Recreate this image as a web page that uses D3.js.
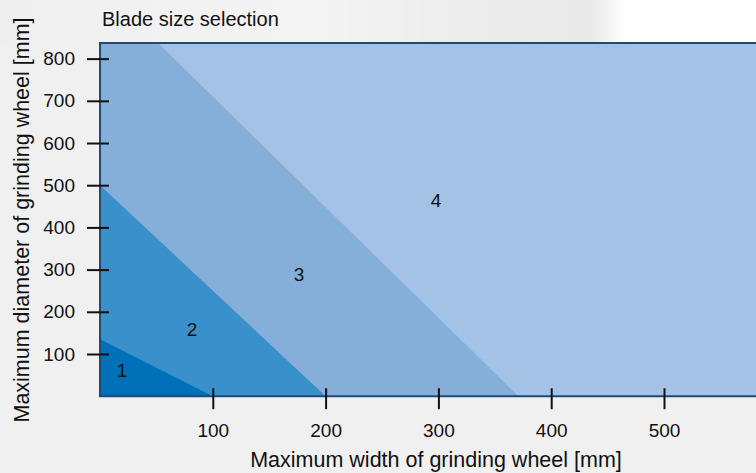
<!DOCTYPE html>
<html>
<head>
<meta charset="utf-8">
<script src="https://cdn.jsdelivr.net/npm/d3@7"></script>
<style>
  html, body { margin: 0; padding: 0; background: #f0f0f0; }
  svg { display: block; font-family: "Liberation Sans", Arial, sans-serif; }
</style>
</head>
<body>
<svg id="chart" width="756" height="473"></svg>
<script>
// ---- data ----
const regionNames = ["1", "2", "3", "4"];
// each boundary is the straight line between (0, diameterIntercept) and (widthIntercept, 0)
const diameterIntercepts = [135, 500, 972];
const widthIntercepts = [100, 200, 371];
const labelWidths = [19.5, 81.6, 176.5, 298];
const labelDiameters = [62, 158, 289, 464];
const regionColors = ["#0070b8", "#3a90ca", "#85afd9", "#a4c2e5"];
const xTicks = [100, 200, 300, 400, 500];
const yTicks = [100, 200, 300, 400, 500, 600, 700, 800];
const xDomainMax = 590;
const yDomainMax = 837;

const svg = d3.select("#chart");
const W = 756, H = 473;
const m = { left: 100, top: 43, bottom: 396.2 };
const plotRight = 100 + xDomainMax * 1.128;

// background decoration (faint photo-like backdrop)
const defs = svg.append("defs");
const g1 = defs.append("linearGradient").attr("id", "bgfade").attr("x1", "0").attr("x2", "1").attr("y1", "0").attr("y2", "0");
g1.append("stop").attr("offset", "0").attr("stop-color", "#efefef");
g1.append("stop").attr("offset", "0.42").attr("stop-color", "#f4f4f4");
g1.append("stop").attr("offset", "0.62").attr("stop-color", "#ececec");
g1.append("stop").attr("offset", "0.78").attr("stop-color", "#e9e9e9");
g1.append("stop").attr("offset", "0.83").attr("stop-color", "#ffffff");
g1.append("stop").attr("offset", "1").attr("stop-color", "#ffffff");
svg.append("rect").attr("x", 0).attr("y", 0).attr("width", W).attr("height", 45).attr("fill", "url(#bgfade)");
svg.append("rect").attr("x", 0).attr("y", 45).attr("width", W).attr("height", H - 45).attr("fill", "#f0f0f0");

const x = d3.scaleLinear().domain([0, xDomainMax]).range([m.left, plotRight]);
const y = d3.scaleLinear().domain([0, yDomainMax]).range([m.bottom, m.top]);

defs.append("clipPath").attr("id", "plotclip")
  .append("rect").attr("x", x(0)).attr("y", y(yDomainMax))
  .attr("width", x(xDomainMax) - x(0)).attr("height", y(0) - y(yDomainMax));

const plot = svg.append("g").attr("clip-path", "url(#plotclip)");
// outermost region fills the whole plot
plot.append("rect")
  .attr("x", x(0)).attr("y", y(yDomainMax))
  .attr("width", x(xDomainMax) - x(0)).attr("height", y(0) - y(yDomainMax))
  .attr("fill", regionColors[3]);

const line = d3.line().x(d => x(d[0])).y(d => y(d[1]));
for (let i = diameterIntercepts.length - 1; i >= 0; i--) {
  const pts = [[0, 0], [0, diameterIntercepts[i]], [widthIntercepts[i], 0]];
  plot.append("path").attr("d", line(pts) + "Z").attr("fill", regionColors[i]);
}

// region labels
svg.append("g").selectAll("text").data(regionNames).join("text")
  .attr("x", (d, i) => x(labelWidths[i]))
  .attr("y", (d, i) => y(labelDiameters[i]))
  .attr("text-anchor", "middle").attr("dy", "0.36em")
  .attr("font-size", 19).attr("fill", "#111").text(d => d);

// frame
svg.append("path")
  .attr("d", `M${plotRight + 5},${y(yDomainMax)}H${x(0)}V${y(0)}H${plotRight + 5}`)
  .attr("fill", "none").attr("stroke", "#1d4b75").attr("stroke-width", 2);

// axes
const yAxis = svg.append("g").attr("transform", `translate(${x(0)},0)`)
  .call(d3.axisLeft(y).tickValues(yTicks).tickSize(13).tickPadding(12));
yAxis.select(".domain").remove();
yAxis.selectAll("line").attr("x1", 9).attr("stroke", "#111").attr("stroke-width", 2);
yAxis.selectAll("text").attr("font-size", 19).attr("fill", "#111").attr("font-family", "Liberation Sans, Arial, sans-serif");

const xAxis = svg.append("g").attr("transform", `translate(0,${y(0)})`)
  .call(d3.axisBottom(x).tickValues(xTicks).tickSize(13).tickPadding(14));
xAxis.select(".domain").remove();
xAxis.selectAll("line").attr("y1", -8).attr("stroke", "#111").attr("stroke-width", 2);
xAxis.selectAll("text").attr("font-size", 19).attr("fill", "#111").attr("font-family", "Liberation Sans, Arial, sans-serif");

// titles
svg.append("text").attr("x", 102).attr("y", 26).attr("font-size", 20).attr("fill", "#111")
  .text("Blade size selection");
svg.append("text").attr("x", 436).attr("y", 467).attr("text-anchor", "middle")
  .attr("font-size", 21.5).attr("fill", "#111")
  .text("Maximum width of grinding wheel [mm]");
svg.append("text").attr("transform", "translate(29,220) rotate(-90)").attr("text-anchor", "middle")
  .attr("font-size", 21.5).attr("fill", "#111")
  .text("Maximum diameter of grinding wheel [mm]");
</script>
</body>
</html>
